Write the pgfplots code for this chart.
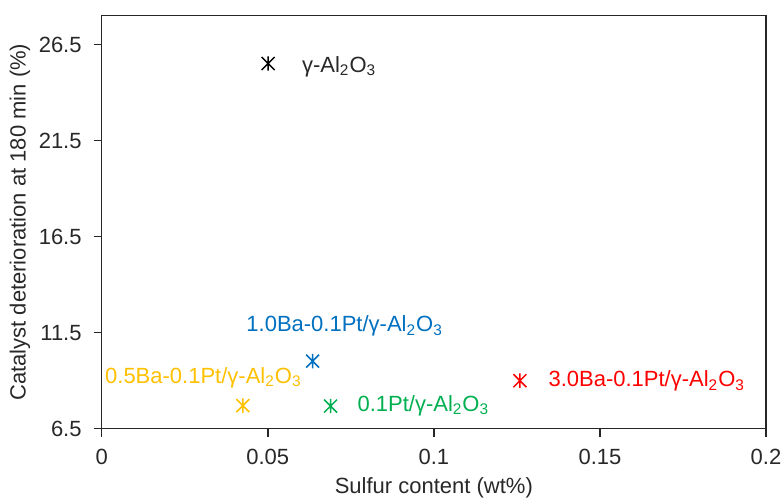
\documentclass[border=0pt]{standalone}
\usepackage{pgfplots}
\pgfplotsset{compat=1.18}
\usepackage{fontspec}
\setmainfont{Liberation Sans}
\definecolor{cblack}{RGB}{0,0,0}
\definecolor{ctext}{RGB}{40,40,40}
\definecolor{cblue}{RGB}{0,112,192}
\definecolor{cyellow}{RGB}{255,192,0}
\definecolor{cgreen}{RGB}{0,176,80}
\definecolor{cred}{RGB}{255,0,0}
\pgfdeclareplotmark{xstar}{%
  \pgfpathmoveto{\pgfqpoint{0pt}{\pgfplotmarksize}}%
  \pgfpathlineto{\pgfqpoint{0pt}{-\pgfplotmarksize}}%
  \pgfpathmoveto{\pgfqpoint{-0.9\pgfplotmarksize}{0.9\pgfplotmarksize}}%
  \pgfpathlineto{\pgfqpoint{0.9\pgfplotmarksize}{-0.9\pgfplotmarksize}}%
  \pgfpathmoveto{\pgfqpoint{-0.9\pgfplotmarksize}{-0.9\pgfplotmarksize}}%
  \pgfpathlineto{\pgfqpoint{0.9\pgfplotmarksize}{0.9\pgfplotmarksize}}%
  \pgfusepathqstroke}
\newcommand{\lf}{\fontsize{11}{13.2}\selectfont}
\begin{document}
\begin{tikzpicture}
\begin{axis}[name=ax, scale only axis, width=332.15pt, height=206.5pt,
  xmin=0, xmax=0.2, ymin=6.5, ymax=28,
  xtick={0,0.05,0.1,0.15,0.2}, xticklabels={0,0.05,0.1,0.15,0.2},
  ytick={6.5,11.5,16.5,21.5,26.5}, yticklabels={6.5,11.5,16.5,21.5,26.5},
  tick align=outside, xtick pos=bottom, ytick pos=left,
  major tick length=4pt,
  axis line style={line width=0.75pt, black!85},
  every tick/.style={line width=0.75pt, black!85},
  tick label style={font=\lf, inner sep=0pt, text=ctext},
  xticklabel style={anchor=north},
  yticklabel style={anchor=east},
  xticklabel shift=6pt, yticklabel shift=5.85pt,
  xlabel={Sulfur content (wt\%)}, ylabel={Catalyst deterioration at 180 min (\%)},
  label style={font=\lf, text=ctext},
  xlabel style={at={(axis description cs:0.5,-0.1433)}, anchor=center},
  ylabel style={at={(axis description cs:-0.123,0.5)}, anchor=center},
]
\addplot[only marks, mark=xstar, mark size=3.6pt, color=cblack, mark options={line width=0.75pt}] coordinates {(0.0501,25.51)};
\addplot[only marks, mark=xstar, mark size=3.6pt, color=cblue, mark options={line width=0.75pt}] coordinates {(0.0635,10.02)};
\addplot[only marks, mark=xstar, mark size=3.6pt, color=cyellow, mark options={line width=0.75pt}] coordinates {(0.0425,7.70)};
\addplot[only marks, mark=xstar, mark size=3.6pt, color=cgreen, mark options={line width=0.75pt}] coordinates {(0.0689,7.68)};
\addplot[only marks, mark=xstar, mark size=3.6pt, color=cred, mark options={line width=0.75pt}] coordinates {(0.1259,9.00)};
\node[anchor=base west, inner sep=0pt, font=\lf, text=ctext] at (axis cs:0.0602,25.06) {γ-Al\textsubscript{2}O\textsubscript{3}};
\node[anchor=base west, inner sep=0pt, font=\lf, text=cblue] at (axis cs:0.04345,11.54) {1.0Ba-0.1Pt/γ-Al\textsubscript{2}O\textsubscript{3}};
\node[anchor=base east, inner sep=0pt, font=\lf, text=cyellow] at (axis cs:0.0603,8.86) {0.5Ba-0.1Pt/γ-Al\textsubscript{2}O\textsubscript{3}};
\node[anchor=base west, inner sep=0pt, font=\lf, text=cgreen] at (axis cs:0.0769,7.42) {0.1Pt/γ-Al\textsubscript{2}O\textsubscript{3}};
\node[anchor=base west, inner sep=0pt, font=\lf, text=cred] at (axis cs:0.1344,8.68) {3.0Ba-0.1Pt/γ-Al\textsubscript{2}O\textsubscript{3}};
\end{axis}
\pgfresetboundingbox
\path[use as bounding box] ([shift={(-50.85pt,-34.65pt)}]ax.south west) rectangle ([shift={(8.5pt,7.85pt)}]ax.north east);
\end{tikzpicture}
\end{document}
